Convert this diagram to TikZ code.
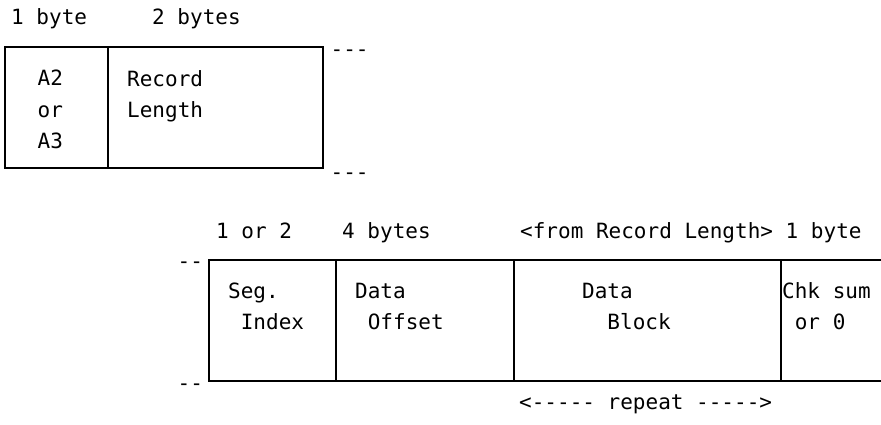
\documentclass[tikz,border=0pt]{standalone}
\usepackage{fontspec}
\setmonofont{DejaVu Sans Mono}
\tikzset{
	cell/.style={draw,line width=1.8pt,inner sep=0pt,outer sep=0pt,anchor=north west,minimum height=121pt},
	edge/.style={line width=1.8pt},
	lbl/.style={inner sep=0pt,anchor=base west,align=left,font=\ttfamily\fontsize{21}{31.5}\selectfont},
}
\begin{document}
\begin{tikzpicture}[x=1pt,y=-1pt]
\useasboundingbox (0,0) rectangle (881,425);
% header record
\node[cell,minimum width=103pt] (type) at (5,47) {};
\node[cell,minimum width=215pt] (reclen) at (108,47) {};
\node[lbl] (sz1) at (11,25) {1 byte};
\node[lbl] (sz2) at (152,25) {2 bytes};
\node[lbl] (typtxt) at (37.5,149) {A2\\or\\A3}; % base = last line
\node[lbl] (lentxt) at (127,117.5) {Record\\Length};
\node[lbl] (cont1) at (330.5,57) {---};
\node[lbl] (cont2) at (330.5,179) {---};
% data segment
\node[cell,minimum width=127pt] (seg) at (209,260) {};
\node[cell,minimum width=178pt] (off) at (336,260) {};
\node[cell,minimum width=267pt] (blk) at (514,260) {};
\coordinate (etop) at (881,260);
\coordinate (ebot) at (881,381);
\draw[edge] (blk.north east) -- (etop);
\draw[edge] (blk.south east) -- (ebot);
\node[lbl] (sz3) at (216,238) {1 or 2};
\node[lbl] (sz4) at (342,238) {4 bytes};
\node[lbl] (sz5) at (520,238) {<from Record Length> 1 byte};
\node[lbl] (cont3) at (177.5,268.5) {--};
\node[lbl] (cont4) at (177.5,390) {--};
\node[lbl] (segtxt) at (228,329.5) {Seg.\\\hphantom{0}Index};
\node[lbl] (offtxt) at (355,329.5) {Data\\\hphantom{0}Offset};
\node[lbl] (blktxt) at (582,329.5) {Data\\\hphantom{00}Block};
\node[lbl] (chktxt) at (782,329.5) {Chk sum\\\hphantom{0}or 0};
\node[lbl] (rpt) at (519,409) {<----- repeat ----->};
\end{tikzpicture}
\end{document}
